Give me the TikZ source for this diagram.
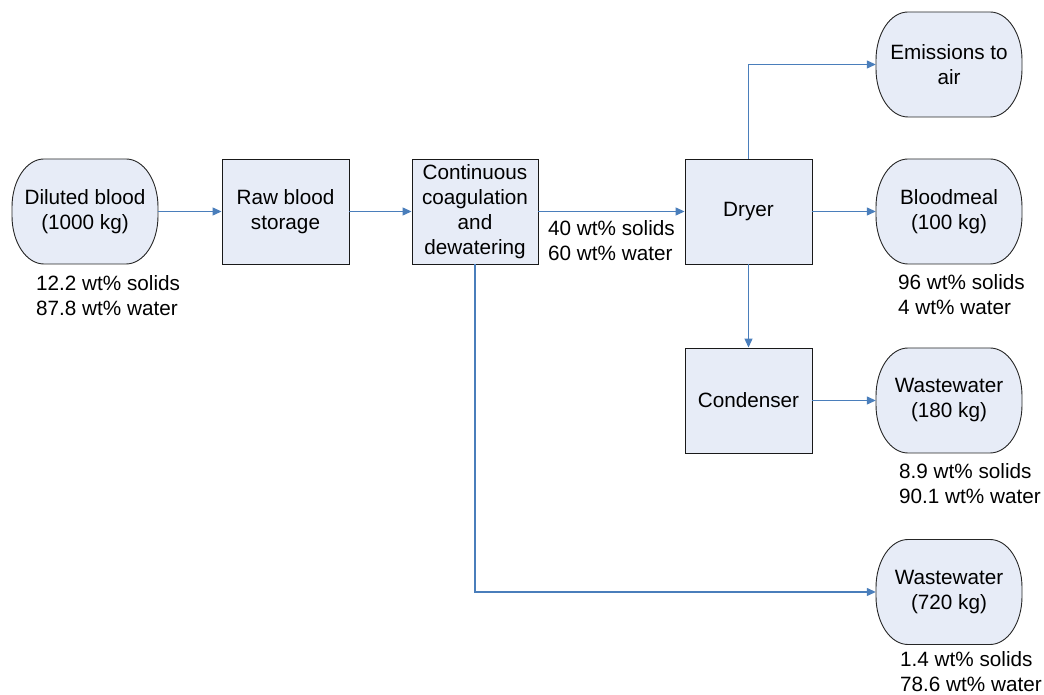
\documentclass[tikz,border=0pt]{standalone}
\usepackage{fontspec}
\setmainfont{Liberation Sans}
\usetikzlibrary{arrows.meta}
\definecolor{boxfill}{RGB}{231,236,247}
\definecolor{flowblue}{RGB}{74,126,187}
\newcommand\termshape[2]{%
  \begin{scope}[shift={(#1,#2)}]
    \filldraw[fill=boxfill,draw=black!85,line width=0.9pt]
      (-41,52.5) -- (41,52.5) arc[start angle=90,end angle=0,x radius=32,y radius=48]
      -- (73,-4.5) arc[start angle=0,end angle=-90,x radius=32,y radius=48]
      -- (-41,-52.5) arc[start angle=270,end angle=180,x radius=32,y radius=48]
      -- (-73,4.5) arc[start angle=180,end angle=90,x radius=32,y radius=48] -- cycle;
  \end{scope}}
\begin{document}
\begin{tikzpicture}[x=1pt,y=1pt,
  every node/.style={font=\fontsize{20.7}{25}\selectfont},
  proc/.style={draw=black!90,line width=0.9pt,fill=boxfill,minimum height=105pt,inner sep=0pt,align=center},
  term/.style={minimum width=146pt,minimum height=105pt,inner sep=0pt,align=center},
  lab/.style={align=left,inner sep=0pt,anchor=base west},
  flow/.style={draw=flowblue,line width=1.2pt,-{Triangle[length=9pt,width=8pt]}}]
\useasboundingbox (0,0) rectangle (1044,695);
% terminals
\termshape{85}{483.5}
\termshape{949}{630.5}
\termshape{949}{483.5}
\termshape{949}{294.5}
\termshape{949}{103}
\node[term] (dil) at (85,483.5) {Diluted blood\\(1000 kg)};
\node[term] (emi) at (949,630.5) {Emissions to\\air};
\node[term] (blm) at (949,483.5) {Bloodmeal\\(100 kg)};
\node[term] (ww1) at (949,294.5) {Wastewater\\(180 kg)};
\node[term] (ww2) at (949,103) {Wastewater\\(720 kg)};
% process boxes
\node[proc,minimum width=127pt] (raw) at (285.5,483.5) {Raw blood\\storage};
\node[proc,minimum width=126pt] (cont) at (475,483.5) {Continuous\\coagulation\\and\\dewatering};
\node[proc,minimum width=127pt] (dry) at (748.5,483.5) {Dryer};
\node[proc,minimum width=127pt] (cond) at (748.5,294.5) {Condenser};
% connectors
\draw[flow] (dil) -- (raw);
\draw[flow] (raw) -- (cont);
\draw[flow] (cont) -- (dry);
\draw[flow] (dry) -- (blm);
\draw[flow] (dry.north) |- (emi.west);
\draw[flow] (dry) -- (cond);
\draw[flow] (cond) -- (ww1);
\draw[flow] (cont.south) |- (ww2.west);
% labels (anchor at baseline of last line)
\node[lab] (ldil) at (36,379) {12.2 wt\% solids\\87.8 wt\% water};
\node[lab] (lcont) at (548,434) {40 wt\% solids\\60 wt\% water};
\node[lab] (lblm) at (898,380.5) {96 wt\% solids\\4 wt\% water};
\node[lab] (lww1) at (899,191) {8.9 wt\% solids\\90.1 wt\% water};
\node[lab] (lww2) at (900,3) {1.4 wt\% solids\\78.6 wt\% water};
\end{tikzpicture}
\end{document}
